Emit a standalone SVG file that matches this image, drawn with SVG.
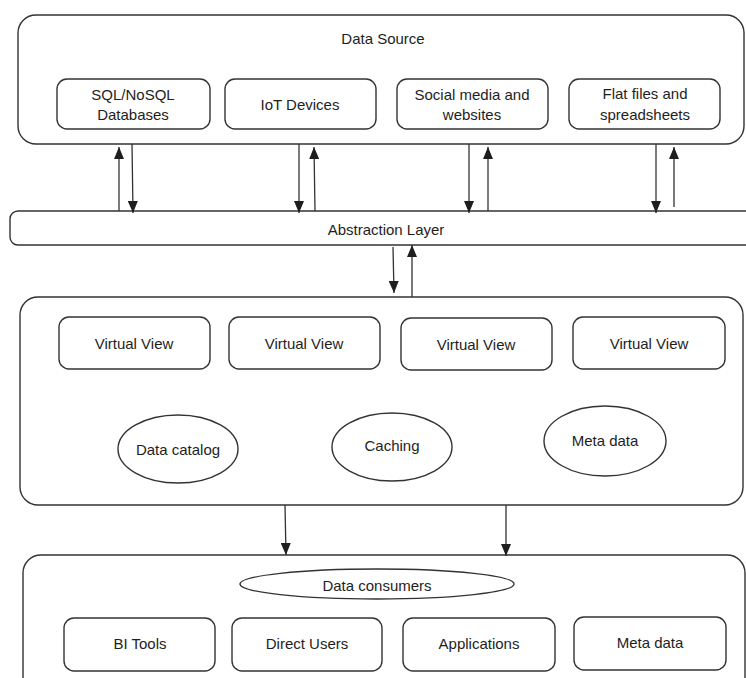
<svg xmlns="http://www.w3.org/2000/svg" width="746" height="678" viewBox="0 0 746 678">
<style>
.box{fill:#fff;stroke:#333;stroke-width:1.4}
.t{font-family:"Liberation Sans","DejaVu Sans",sans-serif;font-size:15px;fill:#1e1e1e;text-anchor:middle;dominant-baseline:central}
.c{fill:none;stroke:#333;stroke-width:1.3}
</style>
<defs>
<marker id="ah" viewBox="0 0 12 10" refX="12" refY="5" markerWidth="12" markerHeight="10" markerUnits="userSpaceOnUse" orient="auto">
<path d="M0,0 L12,5 L0,10 z" fill="#1e1e1e"/>
</marker>
</defs>
<rect width="746" height="678" fill="#fff"/>

<g id="data-source">
<rect class="box" x="18" y="15" width="726" height="129" rx="18"/>
<text class="t" x="383" y="38">Data Source</text>
</g>
<g id="sql">
<rect class="box" x="57" y="79" width="153" height="50" rx="10"/>
<text class="t" x="133" y="94">SQL/NoSQL</text>
<text class="t" x="133" y="114">Databases</text>
</g>
<g id="iot">
<rect class="box" x="225" y="79" width="151" height="50" rx="10"/>
<text class="t" x="300" y="104">IoT Devices</text>
</g>
<g id="social">
<rect class="box" x="397" y="79" width="151" height="50" rx="10"/>
<text class="t" x="472" y="94">Social media and</text>
<text class="t" x="472" y="114">websites</text>
</g>
<g id="flat">
<rect class="box" x="569" y="79" width="151" height="50" rx="10"/>
<text class="t" x="645" y="93">Flat files and</text>
<text class="t" x="645" y="114">spreadsheets</text>
</g>

<g id="abstraction">
<rect class="box" x="10" y="211" width="760" height="34" rx="8"/>
<text class="t" x="386" y="229">Abstraction Layer</text>
</g>

<g id="virtualization">
<rect class="box" x="20" y="297" width="723" height="208" rx="18"/>
</g>
<g id="vv1"><rect class="box" x="59" y="317" width="151" height="52" rx="10"/><text class="t" x="134" y="343">Virtual View</text></g>
<g id="vv2"><rect class="box" x="229" y="317" width="151" height="52" rx="10"/><text class="t" x="304" y="343">Virtual View</text></g>
<g id="vv3"><rect class="box" x="401" y="318" width="151" height="52" rx="10"/><text class="t" x="476" y="344">Virtual View</text></g>
<g id="vv4"><rect class="box" x="573" y="317" width="152" height="52" rx="10"/><text class="t" x="649" y="343">Virtual View</text></g>
<g id="catalog"><ellipse class="box" cx="178" cy="449" rx="60" ry="34"/><text class="t" x="178" y="449">Data catalog</text></g>
<g id="caching"><ellipse class="box" cx="392" cy="447" rx="60" ry="34"/><text class="t" x="392" y="445">Caching</text></g>
<g id="metadata1"><ellipse class="box" cx="605" cy="441" rx="61" ry="35"/><text class="t" x="605" y="440">Meta data</text></g>

<g id="consumers-area">
<rect class="box" x="23" y="555" width="722" height="140" rx="18"/>
</g>
<g id="consumers"><ellipse class="box" cx="377" cy="584" rx="137" ry="15"/><text class="t" x="377" y="585">Data consumers</text></g>
<g id="bi"><rect class="box" x="64" y="618" width="151" height="53" rx="10"/><text class="t" x="140" y="643">BI Tools</text></g>
<g id="users"><rect class="box" x="232" y="618" width="150" height="53" rx="10"/><text class="t" x="307" y="643">Direct Users</text></g>
<g id="apps"><rect class="box" x="403" y="618" width="152" height="53" rx="10"/><text class="t" x="479" y="643">Applications</text></g>
<g id="metadata2"><rect class="box" x="574" y="617" width="152" height="53" rx="10"/><text class="t" x="650" y="642">Meta data</text></g>

<g id="connectors">
<line class="c" x1="119" y1="211" x2="119" y2="147" marker-end="url(#ah)"/>
<line class="c" x1="132" y1="144" x2="133" y2="213" marker-end="url(#ah)"/>
<line class="c" x1="299" y1="144" x2="299" y2="213" marker-end="url(#ah)"/>
<line class="c" x1="315" y1="211" x2="314" y2="147" marker-end="url(#ah)"/>
<line class="c" x1="469" y1="144" x2="469" y2="213" marker-end="url(#ah)"/>
<line class="c" x1="488" y1="211" x2="488" y2="147" marker-end="url(#ah)"/>
<line class="c" x1="656" y1="144" x2="656" y2="213" marker-end="url(#ah)"/>
<line class="c" x1="674" y1="207" x2="674" y2="147" marker-end="url(#ah)"/>
<line class="c" x1="393" y1="247" x2="394" y2="293" marker-end="url(#ah)"/>
<line class="c" x1="412" y1="297" x2="412" y2="245" marker-end="url(#ah)"/>
<line class="c" x1="285" y1="505" x2="286" y2="555" marker-end="url(#ah)"/>
<line class="c" x1="506" y1="505" x2="506" y2="556" marker-end="url(#ah)"/>
</g>
</svg>
